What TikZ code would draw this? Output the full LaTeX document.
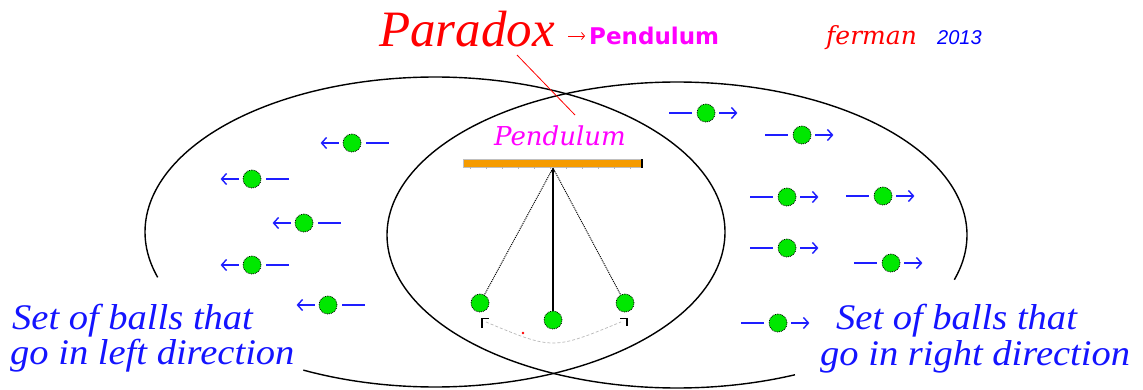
\documentclass[tikz,border=0pt]{standalone}
\usepackage{fontspec}
\setmainfont{Liberation Serif}
\newfontfamily\djsans{DejaVu Sans}
\newfontfamily\djserif{DejaVu Serif}
\newfontfamily\lsans{Liberation Sans}
\newfontfamily\captfont[FakeStretch=1.07]{Liberation Serif}
\usetikzlibrary{arrows.meta}
\definecolor{ballgreen}{RGB}{0,232,0}
\definecolor{barorange}{RGB}{245,155,0}
\definecolor{mag}{RGB}{255,0,255}
\definecolor{tblue}{RGB}{20,20,255}
\definecolor{hblue}{RGB}{30,30,255}
\tikzset{
  ball/.style={circle, fill=ballgreen, draw=black, densely dotted, line width=0.8pt, minimum size=18pt, inner sep=0pt},
  mv/.style={draw=hblue, line width=1.5pt},
  mvarrow/.style={mv, -{Straight Barb[length=5pt,width=11pt,line width=1.4pt]}},
  ell/.style={draw=black, line width=1.4pt},
  bluetext/.style={anchor=base west, inner sep=0pt, text=tblue, font=\captfont\itshape\fontsize{36}{36}\selectfont},
}
\begin{document}
\begin{tikzpicture}[x=1pt,y=-1pt]
\useasboundingbox[fill=white] (0,0) rectangle (1143,390);

% two overlapping sets
\draw[ell] plot[domain=163:477,samples=260,smooth] ({435+290*cos(\x)},{232+155*sin(\x)});
\draw[ell] plot[domain=66:377,samples=260,smooth] ({677+290*cos(\x)},{235+153*sin(\x)});

% title
\node[anchor=base west, inner sep=0pt, text=red, font=\itshape\fontsize{51}{51}\selectfont] (paradox) at (379,47) {Paradox};
\node[anchor=base west, inner sep=0pt, text=mag, font=\djsans\bfseries\fontsize{23}{23}\selectfont] (pend1) at (589,45) {Pendulum};
\coordinate (ra) at (568,36);
\coordinate (rb) at (585,36);
\draw[red, line width=0.8pt, -{Straight Barb[length=3pt,width=7pt,line width=0.8pt]}] (ra) -- (rb);
\node[anchor=base west, inner sep=0pt, text=red, font=\djserif\itshape\fontsize{25}{25}\selectfont] (ferman) at (826,45) {ferman};
\node[anchor=base west, inner sep=0pt, text=blue, font=\lsans\itshape\fontsize{20}{20}\selectfont] (year) at (937,45) {2013};

% pointer line
\coordinate (pa) at (517,55);
\coordinate (pb) at (575,115);
\draw[red, line width=0.8pt] (pa) -- (pb);

% pendulum
\node[anchor=base, inner sep=0pt, text=mag, font=\djserif\itshape\fontsize{26}{26}\selectfont] (pend2) at (560,146) {Pendulum};
\node[draw=gray!50, fill=barorange, minimum width=179pt, minimum height=8pt, inner sep=0pt, line width=0.4pt] (bar) at (552.5,163.5) {};
\draw[black, line width=1.6pt] (bar.north east) -- (bar.south east);
\foreach \t in {470,486,...,638} { \draw[gray!60, line width=0.5pt] (\t,167.5) -- (\t,169.5); }
\coordinate (piv) at (553,168);
\coordinate (pl0) at (480,303);
\coordinate (pc0) at (553,320);
\coordinate (pr0) at (625,303);
\draw[densely dotted, line width=1pt] (pl0) -- (piv);
\draw[densely dotted, line width=1pt] (pr0) -- (piv);
\draw[line width=1.3pt, -{Stealth[length=4pt,width=4pt]}] (pc0) -- (piv);
\draw[gray!55, densely dashed, line width=0.7pt] (486,322) .. controls (553,350) .. (621,322);
\coordinate (bl1) at (482,328);
\coordinate (bl2) at (482,318.5);
\coordinate (bl3) at (489,318.5);
\draw[line width=1.3pt] (bl1) -- (bl2) -- (bl3);
\coordinate (br1) at (620,318.5);
\coordinate (br2) at (627,318.5);
\coordinate (br3) at (627,326);
\draw[line width=1.3pt] (br1) -- (br2) -- (br3);
\fill[red] (523,333) circle (1.3);
\node[ball] (pl) at (pl0) {};
\node[ball] (pc) at (pc0) {};
\node[ball] (pr) at (pr0) {};

% balls going left
\foreach \i/\bx/\by in {1/352/143, 2/252/179, 3/304/223, 4/252/265, 5/328/305} {
  \node[ball] (L\i) at (\bx,\by) {};
  \draw[mvarrow] ([xshift=-4pt]L\i.west) -- ++(-18,0);
  \draw[mv] ([xshift=5pt]L\i.east) -- ++(23,0);
}
% balls going right
\foreach \i/\bx/\by in {1/706/113, 2/802/135, 3/787/197, 4/883/196, 5/787/248, 6/891/263, 7/778/323} {
  \node[ball] (R\i) at (\bx,\by) {};
  \draw[mv] ([xshift=-5pt]R\i.west) -- ++(-23,0);
  \draw[mvarrow] ([xshift=4pt]R\i.east) -- ++(18,0);
}

% captions
\node[bluetext] (cl1) at (12,329) {Set of balls that};
\node[bluetext] (cl2) at (10,364) {go in left direction};
\node[bluetext] (cr1) at (836,329) {Set of balls that};
\node[bluetext] (cr2) at (820,365) {go in right direction};
\end{tikzpicture}
\end{document}
